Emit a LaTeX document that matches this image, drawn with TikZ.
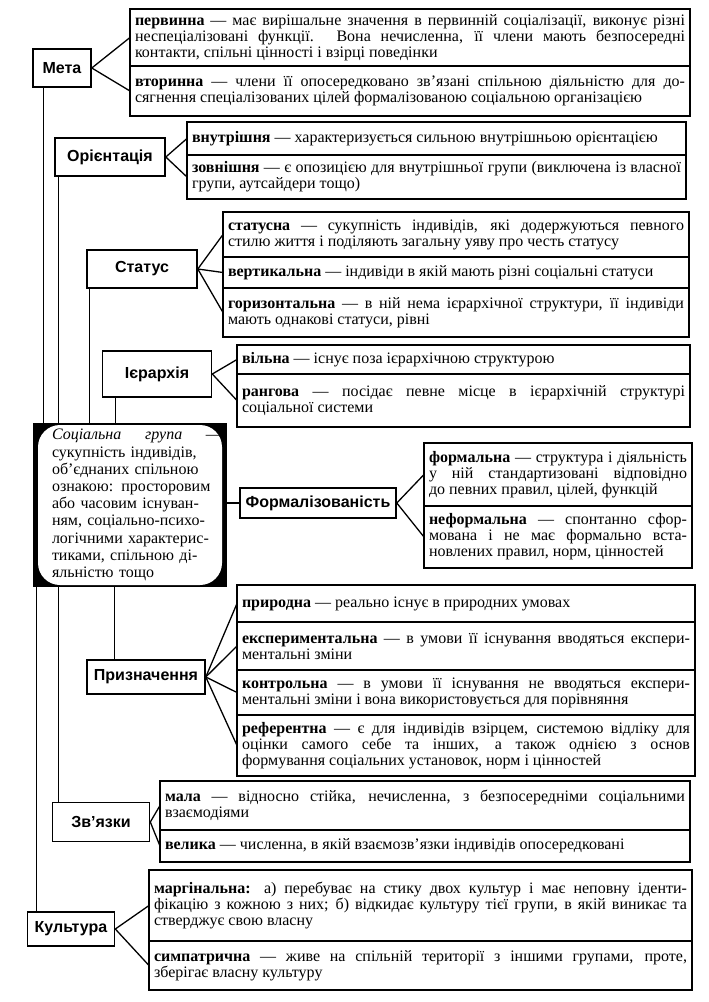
\documentclass[tikz,border=0pt]{standalone}
\usepackage{fontspec}
\setmainfont{Liberation Serif}
\setsansfont{Liberation Sans}

\tikzset{
    kind/.style={draw, line width=1.6pt, fill=white, inner sep=1pt, font=\sffamily\bfseries\fontsize{16}{18}\selectfont},
    item/.style={draw, line width=1.6pt, outer sep=0pt, anchor=north west, align=justify, inner xsep=5pt, inner ysep=2pt, font=\fontsize{16}{16}\selectfont},
    fan/.style={line width=1.3pt},
    centre/.style={fill=black, minimum width=194pt, minimum height=164pt, inner sep=0pt,
        path picture={\fill[white, rounded corners=22pt] ([xshift=5pt, yshift=-2pt]path picture bounding box.north west) rectangle ([xshift=-5pt, yshift=2pt]path picture bounding box.south east);}},
    centretext/.style={text width=170pt, align=left, inner sep=0pt, font=\fontsize{16}{17.2}\selectfont}
}

\begin{document}
\begin{tikzpicture}[x=1pt, y=-1pt]
    \useasboundingbox [fill=white] (0,0) rectangle (709,1002);

    \node (grupa) [centre] at (130,505) {};
    \node (opys) [centretext] at ([xshift=7pt]grupa.center) {\setlength{\parindent}{0pt}\textit{Соціальна\hfill група}\hfill —\\ сукупність індивідів,\\ об’єднаних спільною\\ ознакою: просторовим\\ або часовим існуван-\\ ням, соціально-психо-\\ логічними характерис-\\ тиками, спільною ді-\\ яльністю тощо};

    \node (meta) [kind, minimum width=58pt, minimum height=38pt] at (62,68) {Мета};
    \node (orient) [kind, minimum width=110pt, minimum height=38pt] at (110,157) {Орієнтація};
    \node (status) [kind, minimum width=110pt, minimum height=38pt] at (142,269) {Статус};
    \node (ierarkh) [kind, minimum width=109pt, minimum height=46pt] at (157,374) {Ієрархія};
    \node (formaliz) [kind, minimum width=156pt, minimum height=30pt] at (318,503) {Формалізованість};
    \node (pryzn) [kind, minimum width=118pt, minimum height=34pt] at (146,677) {Призначення};
    \node (zvyaz) [kind, minimum width=97pt, minimum height=39pt] at (101,822) {Зв’язки};
    \node (kultura) [kind, minimum width=87pt, minimum height=34pt] at (71,929) {Культура};

    \node (pervynna) [item, text width=550pt, minimum height=57pt] at (130,9) {\textbf{первинна} — має вирішальне значення в первинній соціалізації, виконує різні\linebreak неспеціалізовані функції. Вона нечисленна, її члени мають безпосередні\linebreak контакти, спільні цінності і взірці поведінки};
    \node (vtorynna) [item, text width=550pt, minimum height=50pt] at (pervynna.south west) {\textbf{вторинна} — члени її опосередковано зв’язані спільною діяльністю для до-\linebreak сягнення спеціалізованих цілей формалізованою соціальною організацією};

    \node (vnutr) [item, text width=489pt, minimum height=33pt] at (187,122) {\textbf{внутрішня} — характеризується сильною внутрішньою орієнтацією};
    \node (zovn) [item, text width=489pt, minimum height=44pt] at (vnutr.south west) {\textbf{зовнішня} — є опозицією для внутрішньої групи (виключена із власної\linebreak групи, аутсайдери тощо)};

    \node (statusna) [item, text width=456pt, minimum height=45pt] at (223,212) {\textbf{статусна} — сукупність індивідів, які додержуються певного\linebreak стилю життя і поділяють загальну уяву про честь статусу};
    \node (vertyk) [item, text width=456pt, minimum height=31pt] at (statusna.south west) {\textbf{вертикальна} — індивіди в якій мають різні соціальні статуси};
    \node (horyz) [item, text width=456pt, minimum height=49pt] at (vertyk.south west) {\textbf{горизонтальна} — в ній нема ієрархічної структури, її індивіди\linebreak мають однакові статуси, рівні};

    \node (vilna) [item, text width=443pt, minimum height=29pt] at (237,345) {\textbf{вільна} — існує поза ієрархічною структурою};
    \node (rangova) [item, text width=443pt, minimum height=53pt] at (vilna.south west) {\textbf{рангова} — посідає певне місце в ієрархічній структурі\linebreak соціальної системи};

    \node (formalna) [item, text width=258pt, minimum height=63pt] at (424,443) {\textbf{формальна} — структура і діяльність\linebreak у ній стандартизовані відповідно\linebreak до певних правил, цілей, функцій};
    \node (neformalna) [item, text width=258pt, minimum height=62pt] at (formalna.south west) {\textbf{неформальна} — спонтанно сфор-\linebreak мована і не має формально вста-\linebreak новлених правил, норм, цінностей};

    \node (pryrodna) [item, text width=448pt, minimum height=37pt] at (237,585) {\textbf{природна} — реально існує в природних умовах};
    \node (eksper) [item, text width=448pt, minimum height=48pt] at (pryrodna.south west) {\textbf{експериментальна} — в умови її існування вводяться експери-\linebreak ментальні зміни};
    \node (kontrol) [item, text width=448pt, minimum height=45pt] at (eksper.south west) {\textbf{контрольна} — в умови її існування не вводяться експери-\linebreak ментальні зміни і вона використовується для порівняння};
    \node (referent) [item, text width=448pt, minimum height=61pt] at (kontrol.south west) {\textbf{референтна} — є для індивідів взірцем, системою відліку для\linebreak оцінки самого себе та інших, а також однією з основ\linebreak формування соціальних установок, норм і цінностей};

    \node (mala) [item, text width=520pt, minimum height=49pt] at (160,781) {\textbf{мала} — відносно стійка, нечисленна, з безпосередніми соціальними\linebreak взаємодіями};
    \node (velyka) [item, text width=520pt, minimum height=32pt] at (mala.south west) {\textbf{велика} — численна, в якій взаємозв’язки індивідів опосередковані};

    \node (margin) [item, text width=533pt, minimum height=71pt] at (149,870) {\textbf{маргінальна:} а) перебуває на стику двох культур і має неповну іденти-\linebreak фікацію з кожною з них; б) відкидає культуру тієї групи, в якій виникає та\linebreak стверджує свою власну};
    \node (sympatr) [item, text width=533pt, minimum height=49pt] at (margin.south west) {\textbf{симпатрична} — живе на спільній території з іншими групами, проте,\linebreak зберігає власну культуру};

    \draw [fan] (meta.east) -- (pervynna.west);
    \draw [fan] (meta.east) -- (vtorynna.west);
    \draw [fan] (orient.east) -- (vnutr.west);
    \draw [fan] (orient.east) -- (zovn.west);
    \draw [fan] (status.east) -- (statusna.west);
    \draw [fan] (status.east) -- (vertyk.west);
    \draw [fan] (status.east) -- (horyz.west);
    \draw [fan] (ierarkh.east) -- (vilna.west);
    \draw [fan] (ierarkh.east) -- (rangova.west);
    \draw [fan] (formaliz.east) -- (formalna.west);
    \draw [fan] (formaliz.east) -- (neformalna.west);
    \draw [fan] (pryzn.east) -- (pryrodna.west);
    \draw [fan] (pryzn.east) -- (eksper.west);
    \draw [fan] (pryzn.east) -- (kontrol.west);
    \draw [fan] (pryzn.east) -- (referent.west);
    \draw [fan] (zvyaz.east) -- (mala.west);
    \draw [fan] (zvyaz.east) -- (velyka.west);
    \draw [fan] (kultura.east) -- (margin.west);
    \draw [fan] (kultura.east) -- (sympatr.west);

    \draw [fan] ([xshift=11pt]meta.south west) -- ([xshift=11pt]meta.south west |- grupa.north);
    \draw [fan] ([xshift=4pt]orient.south west) -- ([xshift=4pt]orient.south west |- grupa.north);
    \draw [fan] ([xshift=3pt]status.south west) -- ([xshift=3pt]status.south west |- grupa.north);
    \draw [fan] ([xshift=14pt]ierarkh.south west) -- ([xshift=14pt]ierarkh.south west |- grupa.north);
    \draw [fan] (grupa.east |- formaliz.west) -- (formaliz.west);
    \draw [fan] ([xshift=28pt]pryzn.north west |- grupa.south) -- ([xshift=28pt]pryzn.north west);
    \draw [fan] ([xshift=7pt]zvyaz.north west |- grupa.south) -- ([xshift=7pt]zvyaz.north west);
    \draw [fan] ([xshift=10pt]kultura.north west |- grupa.south) -- ([xshift=10pt]kultura.north west);
\end{tikzpicture}
\end{document}
